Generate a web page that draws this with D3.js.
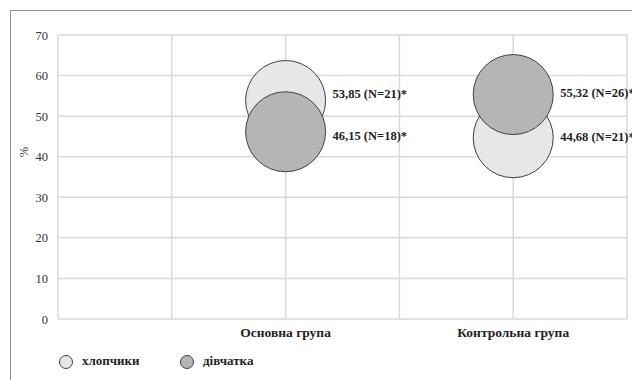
<!DOCTYPE html>
<html>
<head>
<meta charset="utf-8">
<script src="https://cdn.jsdelivr.net/npm/d3@7"></script>
<style>
  html, body { margin: 0; padding: 0; background: #fff; }
  svg { display: block; }
  svg text { font-family: "Liberation Serif", "Times New Roman", "DejaVu Serif", serif !important; }
</style>
</head>
<body>
<script>
// Groups and their horizontal positions on the bubble x axis
const groups = ["Основна група", "Контрольна група"];
const groupX = [2, 4];

// Series: share of boys / girls (%) and group sizes
const seriesNames = ["хлопчики", "дівчатка"];
const boysPct = [53.85, 44.68];
const boysN = [21, 21];
const girlsPct = [46.15, 55.32];
const girlsN = [18, 26];

const yTicks = [0, 10, 20, 30, 40, 50, 60, 70];
const xGrid = [0, 1, 2, 3, 4, 5];

const W = 632, H = 380;
const margin = { left: 58, top: 35, right: 5, bottom: 61 };
const SERIF = "'Liberation Serif', 'Times New Roman', 'DejaVu Serif', serif";

const svg = d3.select("body").append("svg")
  .attr("width", W).attr("height", H)
  .attr("font-family", SERIF);

const x = d3.scaleLinear().domain([0, 5]).range([margin.left, W - margin.right]);
const y = d3.scaleLinear().domain([0, 70]).range([H - margin.bottom, margin.top]);
const bubbleR = 40;

const fills = ["#e7e7e9", "#b4b5b7"];

// Outer chart frame
svg.append("path")
  .attr("d", `M10.5,${H} V10.5 H${W}`)
  .attr("fill", "none").attr("stroke", "#8f8f8f").attr("stroke-width", 1);

// Gridlines
const grid = svg.append("g").attr("stroke", "#d9d9d9").attr("stroke-width", 1.5);
grid.selectAll("line.h").data(yTicks).join("line")
  .attr("x1", x(0)).attr("x2", x(5))
  .attr("y1", d => y(d)).attr("y2", d => y(d));
grid.selectAll("line.v").data(xGrid).join("line")
  .attr("x1", d => x(d)).attr("x2", d => x(d))
  .attr("y1", y(0)).attr("y2", y(70));

// Y axis tick labels
const yAxis = d3.axisLeft(y).tickValues(yTicks).tickSize(0).tickPadding(10);
svg.append("g").attr("transform", `translate(${x(0)},0)`).call(yAxis)
  .attr("font-family", SERIF)
  .call(g => g.select(".domain").remove())
  .call(g => g.selectAll("text")
    .attr("font-family", SERIF)
    .attr("font-size", 12.5).attr("fill", "#333"));

// Y axis title
svg.append("text")
  .attr("transform", `translate(25,152) rotate(-90)`)
  .attr("text-anchor", "middle").attr("dominant-baseline", "middle")
  .attr("font-size", 12.5).attr("fill", "#333").text("%");

// Group labels
svg.selectAll("text.cat").data(groups).join("text")
  .attr("class", "cat")
  .attr("x", (d, i) => x(groupX[i]))
  .attr("y", y(0) + 15)
  .attr("dominant-baseline", "middle")
  .attr("text-anchor", "middle")
  .attr("font-size", 13.5).attr("font-weight", "bold").attr("fill", "#222")
  .text(d => d);

// Bubble data: boys drawn first, girls on top
const series = [
  groups.map((g, i) => ({ g: i, v: boysPct[i], n: boysN[i], s: 0 })),
  groups.map((g, i) => ({ g: i, v: girlsPct[i], n: girlsN[i], s: 1 }))
];

series.forEach((pts, s) => {
  svg.append("g").selectAll("circle").data(pts).join("circle")
    .attr("cx", d => x(groupX[d.g]))
    .attr("cy", d => y(d.v))
    .attr("r", bubbleR)
    .attr("fill", fills[s])
    .attr("stroke", "#404040").attr("stroke-width", 1);
});

// Value labels, spread apart vertically inside each group so they don't collide
const fmt = v => v.toFixed(2).replace(".", ",");
const minGap = 42;
const labels = [];
groups.forEach((g, i) => {
  const a = { d: series[0][i], ly: y(series[0][i].v) };
  const b = { d: series[1][i], ly: y(series[1][i].v) };
  const [top, bot] = a.ly < b.ly ? [a, b] : [b, a];
  const gap = bot.ly - top.ly;
  if (gap < minGap) {
    const push = (minGap - gap) / 2;
    top.ly -= push; bot.ly += push;
  }
  labels.push(a, b);
});

svg.append("g").selectAll("text").data(labels).join("text")
  .attr("x", d => x(groupX[d.d.g]) + bubbleR + 7)
  .attr("y", d => d.ly)
  .attr("dominant-baseline", "middle")
  .attr("font-size", 12.5).attr("font-weight", "bold").attr("fill", "#222")
  .text(d => `${fmt(d.d.v)} (N=${d.d.n})*`);

// Legend
const legendX = [66, 187];
const legend = svg.append("g").selectAll("g").data(seriesNames).join("g")
  .attr("transform", (d, i) => `translate(${legendX[i]},362)`);
legend.append("circle").attr("r", 6.5)
  .attr("fill", (d, i) => fills[i])
  .attr("stroke", "#404040").attr("stroke-width", 1);
legend.append("text").attr("x", 16).attr("dominant-baseline", "middle")
  .attr("font-size", 13).attr("font-weight", "bold").attr("fill", "#222")
  .text(d => d);
</script>
</body>
</html>
